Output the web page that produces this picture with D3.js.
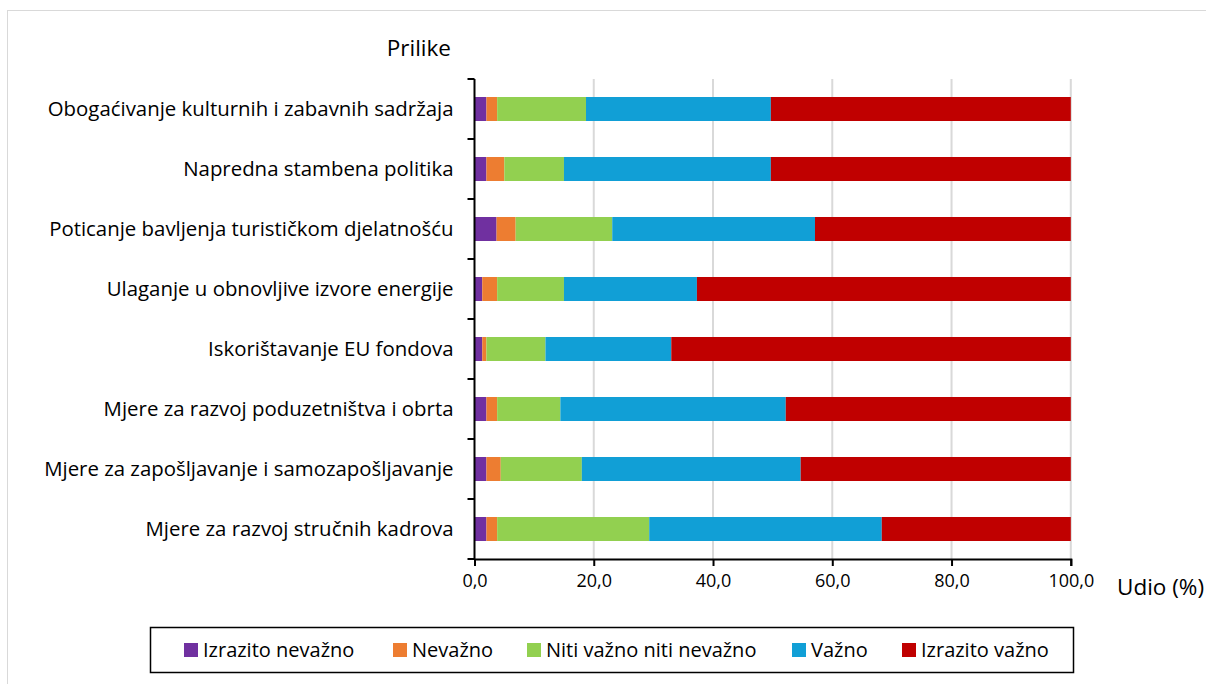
<!DOCTYPE html>
<html>
<head>
<meta charset="utf-8">
<script src="https://cdn.jsdelivr.net/npm/d3@7/dist/d3.min.js"></script>
<style>
  html, body { margin: 0; padding: 0; background: #fff; }
  svg { display: block; }
  text { fill: #000; }
</style>
</head>
<body>
<svg id="chart" width="1206" height="684"></svg>
<script>
// Categories, top to bottom
const categories = [
  "Obogaćivanje kulturnih i zabavnih sadržaja",
  "Napredna stambena politika",
  "Poticanje bavljenja turističkom djelatnošću",
  "Ulaganje u obnovljive izvore energije",
  "Iskorištavanje EU fondova",
  "Mjere za razvoj poduzetništva i obrta",
  "Mjere za zapošljavanje i samozapošljavanje",
  "Mjere za razvoj stručnih kadrova"
];

// Series names (legend order)
const seriesNames = ["Izrazito nevažno", "Nevažno", "Niti važno niti nevažno", "Važno", "Izrazito važno"];

// Share (%) for each series, per category
const izrazitoNevazno = [2.0, 2.0, 3.7, 1.3, 1.3, 2.0, 2.0, 2.0];
const nevazno         = [1.8, 3.0, 3.2, 2.5, 0.7, 1.8, 2.4, 1.8];
const nitiNiti        = [14.9, 10.0, 16.2, 11.2, 9.9, 10.6, 13.6, 25.5];
const vazno           = [31.0, 34.7, 34.0, 22.3, 21.1, 37.8, 36.7, 39.0];
const izrazitoVazno   = [50.3, 50.3, 42.9, 62.7, 67.0, 47.8, 45.3, 31.7];

const xTicks = [0, 20, 40, 60, 80, 100];
const xTickLabels = ["0,0", "20,0", "40,0", "60,0", "80,0", "100,0"];

const colors = ["#7030a0", "#ed7d31", "#92d050", "#119fd6", "#c00000"];

const seriesValues = [izrazitoNevazno, nevazno, nitiNiti, vazno, izrazitoVazno];
const rows = categories.map((c, i) => {
  const r = { category: c };
  seriesNames.forEach((s, j) => { r[s] = seriesValues[j][i]; });
  return r;
});

const svg = d3.select("#chart");
const font = "'Open Sans', 'Noto Sans', sans-serif";

// chart frame
svg.append("rect")
  .attr("x", 7.5).attr("y", 10.5).attr("width", 1206).attr("height", 700)
  .attr("fill", "#fff").attr("stroke", "#d9d9d9").attr("stroke-width", 1);

const plotLeft = 474.5, plotRight = 1070.8, plotTop = 79, plotBottom = 559;

const x = d3.scaleLinear().domain([0, 100]).range([plotLeft, plotRight]);
const y = d3.scaleBand().domain(categories).range([plotTop, plotBottom]).paddingInner(0.6).paddingOuter(0.3);

// vertical gridlines
svg.append("g")
  .selectAll("line")
  .data(xTicks.slice(1))
  .join("line")
  .attr("x1", d => x(d)).attr("x2", d => x(d))
  .attr("y1", plotTop).attr("y2", plotBottom)
  .attr("stroke", "#d9d9d9").attr("stroke-width", 2);

// stacked bars
const stack = d3.stack().keys(seriesNames);
const stacked = stack(rows);

svg.append("g")
  .selectAll("g")
  .data(stacked)
  .join("g")
  .attr("fill", (d, i) => colors[i])
  .selectAll("rect")
  .data(d => d)
  .join("rect")
  .attr("x", d => x(d[0]))
  .attr("width", d => x(d[1]) - x(d[0]))
  .attr("y", d => y(d.data.category))
  .attr("height", y.bandwidth());

// x axis
const xAxis = d3.axisBottom(x)
  .tickValues(xTicks)
  .tickFormat((d, i) => xTickLabels[i])
  .tickSize(7)
  .tickPadding(6);

const gx = svg.append("g")
  .attr("transform", `translate(0,${plotBottom})`)
  .call(xAxis);
gx.select(".domain").attr("stroke", "#000").attr("stroke-width", 2);
gx.selectAll(".tick line").attr("stroke", "#000").attr("stroke-width", 2);
gx.selectAll(".tick text")
  .attr("font-family", font).attr("font-size", 18).attr("fill", "#000")
  .attr("dy", "0.85em");

// y axis: ticks on category boundaries
const gy = svg.append("g");
gy.append("line")
  .attr("x1", plotLeft).attr("x2", plotLeft).attr("y1", plotTop).attr("y2", plotBottom)
  .attr("stroke", "#000").attr("stroke-width", 2);
const step = y.step();
gy.selectAll("line.tick")
  .data(d3.range(categories.length + 1))
  .join("line")
  .attr("class", "tick")
  .attr("x1", plotLeft - 7).attr("x2", plotLeft)
  .attr("y1", i => plotTop + i * step).attr("y2", i => plotTop + i * step)
  .attr("stroke", "#000").attr("stroke-width", 2);

gy.selectAll("text")
  .data(categories)
  .join("text")
  .attr("x", plotLeft - 21)
  .attr("y", d => y(d) + y.bandwidth() / 2)
  .attr("dy", "0.35em")
  .attr("text-anchor", "end")
  .attr("font-family", font).attr("font-size", 20.4)
  .text(d => d);

// axis titles
svg.append("text")
  .attr("x", 451).attr("y", 48).attr("dy", "0.35em")
  .attr("text-anchor", "end")
  .attr("font-family", font).attr("font-size", 22.5)
  .text("Prilike");

svg.append("text")
  .attr("x", 1117).attr("y", 587).attr("dy", "0.35em")
  .attr("font-family", font).attr("font-size", 22.5)
  .text("Udio (%)");

// legend
const legend = svg.append("g");
legend.append("rect")
  .attr("x", 150.5).attr("y", 627.5).attr("width", 923).attr("height", 45)
  .attr("fill", "#fff").attr("stroke", "#000").attr("stroke-width", 1.5);

const legendX = [184, 393, 527, 792, 902];
const items = legend.selectAll("g.item")
  .data(seriesNames)
  .join("g")
  .attr("class", "item")
  .attr("transform", (d, i) => `translate(${legendX[i]},650)`);
items.append("rect")
  .attr("x", 0).attr("y", -7).attr("width", 14).attr("height", 14)
  .attr("fill", (d, i) => colors[i]);
items.append("text")
  .attr("x", 19).attr("y", 0).attr("dy", "0.35em")
  .attr("font-family", font)
  .attr("font-size", 20)
  .text(d => d);
</script>
</body>
</html>
